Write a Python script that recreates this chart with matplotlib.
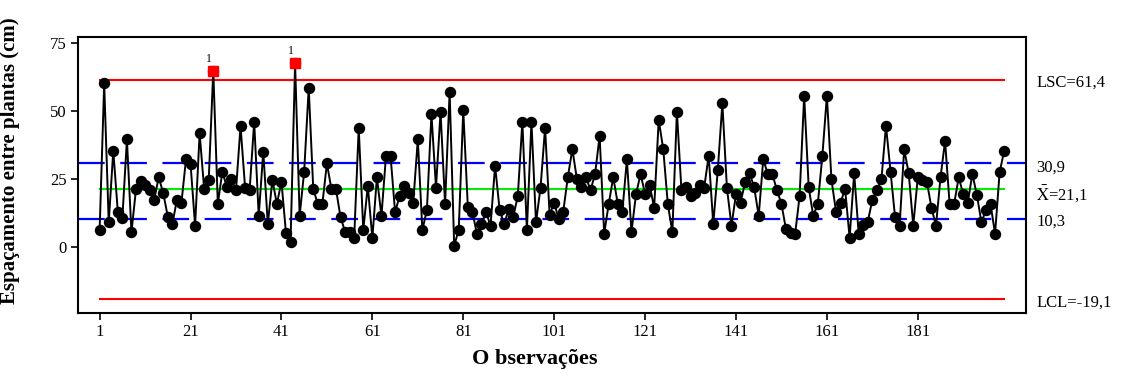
import numpy as np
from matplotlib import pyplot as plt

plt.rcParams['font.family'] = ['Liberation Serif', 'DejaVu Serif']
plt.rcParams['mathtext.fontset'] = 'stix'

# espaçamento observado (cm)
espacamento = [
    6.1, 60.0, 8.9, 35.2, 12.9, 10.5, 39.4, 5.3, 21.1, 24.3, 22.7, 20.8, 17.2, 25.5, 19.6, 11.0, 8.3, 17.2, 16.2, 32.1,
    30.4, 7.7, 41.7, 21.1, 24.5, 64.7, 15.7, 27.6, 21.8, 24.7, 20.8, 44.3, 21.7, 20.8, 45.9, 11.3, 34.9, 8.3, 24.5, 15.7,
    23.9, 4.9, 1.6, 67.4, 11.3, 27.6, 58.4, 21.1, 15.7, 15.7, 30.6, 21.1, 21.1, 10.8, 5.5, 5.3, 3.1, 43.7, 6.1, 22.3,
    3.1, 25.5, 11.3, 33.4, 33.4, 12.7, 18.6, 22.3, 19.6, 16.2, 39.4, 6.1, 13.5, 48.8, 21.7, 49.6, 15.7, 56.9, 0.4, 6.1,
    50.2, 14.7, 12.9, 4.7, 8.3, 12.9, 7.6, 29.8, 13.5, 8.3, 13.7, 11.0, 18.6, 45.9, 6.1, 45.9, 8.9, 21.7, 43.7, 11.6,
    16.2, 10.0, 12.9, 25.5, 35.8, 24.9, 22.1, 25.5, 20.8, 26.7, 40.7, 4.7, 15.7, 25.5, 15.7, 12.9, 32.1, 5.3, 19.2, 26.7,
    19.4, 22.7, 14.3, 46.6, 35.8, 15.7, 5.3, 49.6, 20.8, 21.8, 18.6, 19.6, 22.7, 21.7, 33.4, 8.3, 28.2, 52.7, 21.7, 7.7,
    19.2, 16.2, 23.6, 27.0, 21.8, 11.3, 32.1, 26.7, 26.7, 20.8, 15.7, 6.4, 5.1, 4.5, 18.6, 55.5, 21.8, 11.3, 15.7, 33.3,
    55.5, 24.7, 12.9, 16.2, 21.2, 3.3, 27.0, 4.7, 8.0, 9.2, 17.2, 20.8, 24.7, 44.5, 27.6, 10.8, 7.7, 35.8, 27.0, 7.7,
    25.5, 24.5, 23.9, 14.3, 7.7, 25.5, 38.8, 15.7, 15.7, 25.5, 19.2, 16.2, 26.7, 19.0, 8.9, 13.5, 15.7, 4.7, 27.3, 35.2,
]
lsc = 61.4
media = 21.1
sigma_sup = 30.9
sigma_inf = 10.3
lic = -19.1
xticks = list(range(1, 200, 20))

y = np.array(espacamento)
obs = np.arange(1, len(y) + 1)

fig = plt.figure(figsize=(11.23, 3.76), dpi=100)
ax = fig.add_axes([0.0697, 0.1684, 0.8439, 0.734])

ax.axhline(sigma_sup, color='#0000ff', lw=1.6, dashes=(12, 7), zorder=1)
ax.axhline(sigma_inf, color='#0000ff', lw=1.6, dashes=(12, 7), zorder=1)
ax.plot([obs[0], obs[-1]], [lsc, lsc], color='#ff0000', lw=1.5, zorder=1)
ax.plot([obs[0], obs[-1]], [lic, lic], color='#ff0000', lw=1.5, zorder=1)
ax.plot([obs[0], obs[-1]], [media, media], color='#00ee00', lw=1.5, zorder=1)

ax.plot(obs, y, color='black', lw=1.4, marker='o', ms=7.2, mfc='black', mec='black', zorder=3)
fora = y > lsc
ax.plot(obs[fora], y[fora], ls='none', marker='s', ms=7.2, mfc='#ff0000', mec='#ff0000', zorder=4)
for xo, yo in zip(obs[fora], y[fora]):
    ax.text(xo - 1, yo + 2.2, '1', fontsize=8.5, ha='center', va='bottom')

ax.set_xlim(-3.7, 204.8)
ax.set_ylim(-24.3, 77.2)
ax.set_xticks(xticks)
ax.set_yticks([0, 25, 50, 75])
ax.tick_params(direction='out', length=5, width=1.2, labelsize=12, top=False, right=False)
for s in ax.spines.values():
    s.set_linewidth(1.5)

ax.set_ylabel('Espaçamento entre plantas (cm)', fontsize=15, fontweight='bold')
ax.yaxis.set_label_coords(-0.061, 0.55)
ax.set_xlabel('O bservações', fontsize=16, fontweight='bold')
ax.xaxis.set_label_coords(0.482, -0.13)

tx = 1.011
ax.text(tx, lsc - 1.2, 'LSC=61,4', transform=ax.get_yaxis_transform(), fontsize=12, va='center')
ax.text(tx, sigma_sup - 2.0, '30,9', transform=ax.get_yaxis_transform(), fontsize=12, va='center')
ax.text(tx, media - 1.6, r'$\mathrm{\bar{X}}$=21,1', transform=ax.get_yaxis_transform(), fontsize=12, va='center')
ax.text(tx, sigma_inf - 1.0, '10,3', transform=ax.get_yaxis_transform(), fontsize=12, va='center')
ax.text(tx, lic - 1.6, 'LCL=-19,1', transform=ax.get_yaxis_transform(), fontsize=12, va='center')

fig.savefig('out.png', dpi=100)
